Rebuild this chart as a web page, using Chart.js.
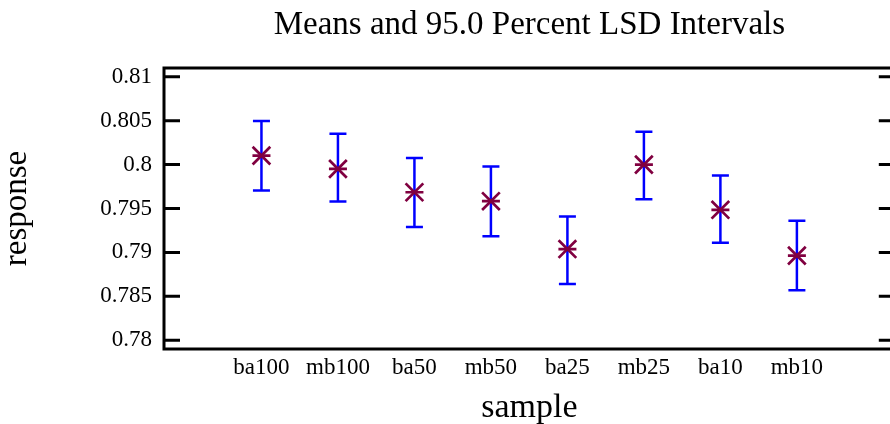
<!DOCTYPE html>
<html>
<head>
<meta charset="utf-8">
<script src="https://cdn.jsdelivr.net/npm/chart.js@4.4.1/dist/chart.umd.min.js"></script>
<style>
  html, body { margin: 0; padding: 0; background: #fff; overflow: hidden; }
  #wrap { position: relative; width: 910px; height: 424px; }
</style>
</head>
<body>
<div id="wrap"><canvas id="lsdChart"></canvas></div>
<script>
// sample names and LSD interval values
var samples = ['ba100', 'mb100', 'ba50', 'mb50', 'ba25', 'mb25', 'ba10', 'mb10'];
var means   = [0.80102, 0.79951, 0.79685, 0.79583, 0.79038, 0.80000, 0.79485, 0.78963];
var lower   = [0.79705, 0.79580, 0.79288, 0.79185, 0.78640, 0.79606, 0.79110, 0.78568];
var upper   = [0.80497, 0.80352, 0.80076, 0.79977, 0.79409, 0.80375, 0.79875, 0.79360];
var yTicks  = [0.78, 0.785, 0.79, 0.795, 0.8, 0.805, 0.81];

var serif = "'Liberation Serif', 'Times New Roman', serif";

// vertical segments lo -> hi, split with null gaps
var barPts = [];
for (var i = 0; i < samples.length; i++) {
  barPts.push({x: i, y: lower[i]});
  barPts.push({x: i, y: upper[i]});
  barPts.push({x: i, y: null});
}
var meanPts = means.map(function(m, i) { return {x: i, y: m}; });

var framePlugin = {
  id: 'frame',
  afterDraw: function(chart) {
    var ctx = chart.ctx;
    var a = chart.chartArea;
    var ys = chart.scales.y;
    ctx.save();
    ctx.strokeStyle = '#000';
    ctx.lineWidth = 3;
    ctx.strokeRect(a.left, a.top, a.right - a.left, a.bottom - a.top);
    ys.ticks.forEach(function(t) {
      var py = ys.getPixelForValue(t.value);
      ctx.beginPath();
      ctx.moveTo(a.left, py); ctx.lineTo(a.left + 16, py);
      ctx.moveTo(a.right - 16, py); ctx.lineTo(a.right, py);
      ctx.stroke();
    });
    ctx.restore();
  }
};

new Chart(document.getElementById('lsdChart'), {
  type: 'line',
  data: {
    datasets: [
      {
        data: meanPts, showLine: false, order: 0,
        pointStyle: 'crossRot', pointRadius: 12.5, pointHoverRadius: 12.5,
        pointBorderColor: '#800040', pointBorderWidth: 2.7, pointBackgroundColor: '#800040'
      },
      {
        data: meanPts, showLine: false, order: 0,
        pointStyle: 'line', pointRadius: 9, pointHoverRadius: 9,
        pointBorderColor: '#800040', pointBorderWidth: 2.7
      },
      {
        data: barPts, order: 1, spanGaps: false,
        borderColor: '#0000ff', borderWidth: 2.5,
        pointStyle: 'line', pointRadius: 8.5, pointHoverRadius: 8.5,
        pointBorderColor: '#0000ff', pointBorderWidth: 2.5
      }
    ]
  },
  options: {
    responsive: true,
    maintainAspectRatio: false,
    animation: false,
    events: [],
    layout: { padding: { left: 0, right: 9, top: 0, bottom: 0 } },
    plugins: {
      legend: { display: false },
      tooltip: { enabled: false },
      title: {
        display: true,
        fullSize: false,
        text: 'Means and 95.0 Percent LSD Intervals',
        color: '#000',
        font: { family: serif, size: 33, weight: 'normal', lineHeight: 1.2 },
        padding: { top: 6, bottom: 22.4 }
      }
    },
    scales: {
      x: {
        type: 'linear',
        min: -1.274, max: 8.28,
        grid: { display: false, drawTicks: false },
        border: { display: false },
        afterBuildTicks: function(s) { s.ticks = samples.map(function(_, i) { return {value: i}; }); },
        afterFit: function(s) { s.height = 75; },
        ticks: {
          padding: 5, color: '#000', maxRotation: 0, autoSkip: false,
          font: { family: serif, size: 23 },
          callback: function(v) { return samples[v]; }
        },
        title: {
          display: true, text: 'sample', color: '#000',
          font: { family: serif, size: 34, lineHeight: 1 },
          padding: { top: 0, bottom: -1 }
        }
      },
      y: {
        min: 0.779, max: 0.811,
        grid: { display: false, drawTicks: false },
        border: { display: false },
        afterBuildTicks: function(s) { s.ticks = yTicks.map(function(v) { return {value: v}; }); },
        afterFit: function(s) { s.width = 164; },
        ticks: {
          padding: 12, color: '#000',
          font: { family: serif, size: 23 },
          callback: function(v) { return String(+v.toFixed(3)); }
        },
        title: {
          display: true, text: 'response', color: '#000',
          font: { family: serif, size: 33, lineHeight: 1 },
          padding: { top: 1, bottom: 0 }
        }
      }
    }
  },
  plugins: [framePlugin]
});
</script>
</body>
</html>
